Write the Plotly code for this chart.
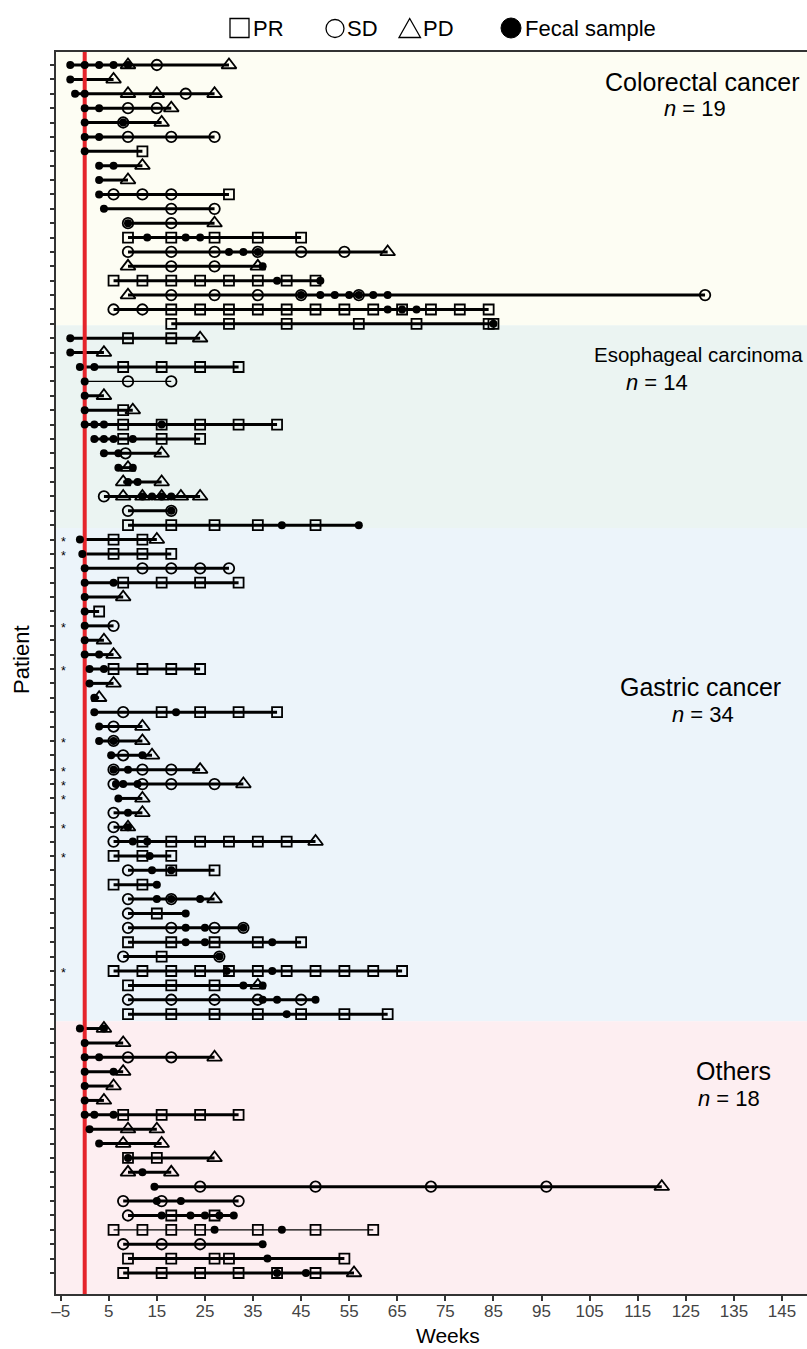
import plotly.graph_objects as go

# ---------------------------------------------------------------------------
# Swimmer data: one inner list per patient (top to bottom), values in weeks
# ---------------------------------------------------------------------------
# Colorectal cancer
crc_pr = [[], [], [], [], [], [], [12], [], [], [30], [], [], [9, 18, 27, 36, 45], [], [],
          [6, 12, 18, 24, 30, 36, 42, 48], [], [18, 24, 30, 36, 42, 48, 54, 60, 66, 72, 78, 84],
          [18, 30, 42, 57, 69, 84, 85]]
crc_sd = [[15], [], [21], [9, 15], [8], [9, 18, 27], [], [], [], [6, 12, 18], [18, 27], [9, 18], [],
          [9, 18, 27, 36, 45, 54], [18, 27], [], [18, 27, 36, 45, 57, 129], [6, 12], []]
crc_pd = [[9, 30], [6], [9, 15, 27], [18], [16], [], [], [12], [9], [], [], [27], [], [63], [9, 36],
          [], [9], [], []]
crc_fecal = [[-3, 0, 3, 6, 9], [-3], [-2, 0], [0, 3], [0, 8], [0, 3], [0], [3, 6], [3], [3], [4], [9],
             [13, 21, 24], [30, 33, 36], [37], [40, 49], [45, 49, 52, 55, 57, 60, 63], [63, 66, 69], [85]]

# Esophageal carcinoma
eso_pr = [[9, 18], [], [8, 16, 24, 32], [], [], [8], [8, 16, 24, 32, 40], [8, 16, 24], [], [], [], [],
          [], [9, 18, 27, 36, 48]]
eso_sd = [[], [], [], [9, 18], [], [], [], [], [8.5], [], [], [4], [9, 18], []]
eso_pd = [[24], [4], [], [], [4], [10], [], [], [16], [9], [8, 16], [8, 12, 16, 20, 24], [], []]
eso_fecal = [[-3], [-3], [-1, 2], [0], [0], [0], [0, 2, 4, 16], [2, 4, 6, 10], [4, 7], [7, 10], [9, 11],
             [12, 14, 16, 18], [18], [41, 57]]

# Gastric cancer
gas_pr = [[6, 12], [6, 12, 18], [], [8, 16, 24, 32], [], [3], [], [], [], [6, 12, 18, 24], [], [],
          [16, 24, 32, 40], [], [], [], [], [], [], [], [], [12, 18, 24, 30, 36, 42], [6, 12, 18],
          [18, 27], [6, 12], [], [15], [], [9, 18, 27, 36, 45], [16],
          [6, 12, 18, 24, 30, 36, 42, 48, 54, 60, 66], [9, 18, 27], [], [9, 18, 27, 36, 45, 54, 63]]
gas_sd = [[], [], [12, 18, 24, 30], [], [], [], [6], [], [], [], [], [], [8], [6], [6], [8],
          [6, 12, 18], [6, 12, 18, 27], [], [6], [6], [6], [], [9], [], [9, 18], [9], [9, 18, 27, 33],
          [], [8, 28], [], [], [9, 18, 27, 36, 45], []]
gas_pd = [[15], [], [], [], [8], [], [], [4], [6], [], [6], [3], [], [12], [12], [14], [24], [33],
          [12], [12], [9], [48], [], [], [], [27], [], [], [], [], [], [36], [], []]
gas_fecal = [[-1], [-0.5], [0], [0, 6], [0], [0], [0], [0], [0, 3], [1, 4], [1], [2], [2, 19], [3],
             [3, 6], [5.5, 12], [6, 9], [6.5, 8, 11], [7], [9], [9], [10, 13], [13.5], [14, 18], [15],
             [15, 18, 24], [21], [21, 25, 33], [21, 25, 39], [28], [29.5, 39], [33, 37], [37, 40, 48],
             [42]]

# Others
oth_pr = [[], [], [], [], [], [], [8, 16, 24, 32], [], [], [9, 15], [], [], [], [18, 27],
          [6, 12, 18, 24, 36, 48, 60], [], [9, 18, 27, 30, 54], [8, 16, 24, 32, 40, 48]]
oth_sd = [[], [], [9, 18], [], [], [], [], [], [], [], [], [24, 48, 72, 96], [8, 16, 32], [9], [],
          [8, 16, 24], [], []]
oth_pd = [[4], [8], [27], [8], [6], [4], [], [9, 15], [8, 16], [27], [9, 18], [120], [], [], [], [],
          [], [56]]
oth_fecal = [[-1, 4], [0], [0, 3], [0, 6], [0], [0], [0, 2, 6], [1], [3], [9], [12], [14.5], [15, 20],
             [16, 22, 25, 28, 31], [27, 41], [37], [38], [40, 46]]

group_names = ["Colorectal cancer", "Esophageal carcinoma", "Gastric cancer", "Others"]
starred_patients = [34, 35, 40, 43, 48, 50, 51, 52, 54, 56, 64]
thin_line_patients = [23, 82]
week_ticks = list(range(-5, 150, 10))
week_tick_labels = [("\u2013" + str(-w)) if w < 0 else str(w) for w in week_ticks]

# ---------------------------------------------------------------------------
group_sizes = [len(crc_pr), len(eso_pr), len(gas_pr), len(oth_pr)]
pr = crc_pr + eso_pr + gas_pr + oth_pr
sd = crc_sd + eso_sd + gas_sd + oth_sd
pd_ = crc_pd + eso_pd + gas_pd + oth_pd
fecal = crc_fecal + eso_fecal + gas_fecal + oth_fecal
n_pat = len(pr)
rows = list(range(1, n_pat + 1))

Y_TOP, Y_BOT = 0.096, 86.46
X_MIN, X_MAX = -5.97, 150.2
FONT = "Liberation Sans, Arial, Helvetica, sans-serif"

W, H = 807, 1349
ML, MR, MT, MB = 56, 0, 52, 55
PW, PH = W - ML - MR, H - MT - MB


def px(xp):
    return (xp - ML) / PW


def py(yp):
    return (H - MB - yp) / PH


fig = go.Figure()

# treatment lines, first to last event of each patient
for width, subset in [(3, [r for r in rows if r not in thin_line_patients]),
                      (1.4, thin_line_patients)]:
    lx, ly = [], []
    for r in subset:
        ev = pr[r - 1] + sd[r - 1] + pd_[r - 1] + fecal[r - 1]
        lx += [min(ev), max(ev), None]
        ly += [r, r, None]
    fig.add_trace(go.Scatter(x=lx, y=ly, mode="lines", line=dict(color="black", width=width),
                             hoverinfo="skip", showlegend=False))

# start of treatment
fig.add_trace(go.Scatter(x=[0, 0], y=[Y_TOP, Y_BOT], mode="lines",
                         line=dict(color="#E5242B", width=4), hoverinfo="skip", showlegend=False))


def flat(series):
    xs, ys = [], []
    for r, vals in zip(rows, series):
        for v in vals:
            xs.append(v)
            ys.append(r)
    return xs, ys


for name, series, symbol, size in [("PR", pr, "square-open", 10),
                                   ("SD", sd, "circle-open", 10.5),
                                   ("PD", pd_, "triangle-up-open", 13)]:
    xs, ys = flat(series)
    fig.add_trace(go.Scatter(x=xs, y=ys, mode="markers", name=name,
                             marker=dict(symbol=symbol, size=size, color="black",
                                         line=dict(width=1.8, color="black")),
                             showlegend=False))

xs, ys = flat(fecal)
fig.add_trace(go.Scatter(x=xs, y=ys, mode="markers", name="Fecal sample",
                         marker=dict(symbol="circle", size=8, color="black", line=dict(width=0)),
                         showlegend=False))

# background bands per tumour type
band_colors = ["#FDFDF3", "#EBF4F2", "#ECF4FA", "#FDEEF1"]
band_edges = [Y_TOP, 19.1, 33.2, 67.5, Y_BOT]
shapes = []
for i, c in enumerate(band_colors):
    shapes.append(dict(type="rect", xref="paper", yref="y", x0=0, x1=1,
                       y0=band_edges[i], y1=band_edges[i + 1],
                       fillcolor=c, line=dict(width=0), layer="below"))

# legend symbols above the panel
lw = 1.3
shapes.append(dict(type="rect", xref="paper", yref="paper", x0=px(230), x1=px(249),
                   y0=py(37.5), y1=py(18.5), line=dict(color="black", width=lw)))
shapes.append(dict(type="circle", xref="paper", yref="paper", x0=px(326), x1=px(344),
                   y0=py(37.5), y1=py(19.5), line=dict(color="black", width=lw)))
shapes.append(dict(type="path", xref="paper", yref="paper",
                   path="M {} {} L {} {} L {} {} Z".format(px(399), py(37.5), px(420.5), py(37.5),
                                                           px(409.7), py(18.5)),
                   line=dict(color="black", width=lw)))
shapes.append(dict(type="circle", xref="paper", yref="paper", x0=px(501), x1=px(521),
                   y0=py(38), y1=py(18), fillcolor="black", line=dict(color="black", width=1)))

annotations = []
for label, xl in [("PR", 251), ("SD", 344.5), ("PD", 421), ("Fecal sample", 523)]:
    annotations.append(dict(text=label, xref="paper", yref="paper", x=px(xl), y=py(28.5),
                            xanchor="left", yanchor="middle", showarrow=False,
                            font=dict(family=FONT, size=22, color="black")))

# group labels: (x, y, anchor, size) for the name, then (x, y) for the count
label_pos = [((128.5, 2.15, "center", 25), (127, 4.05)),
             ((149.8, 21.15, "right", 20.5), (119, 23.05)),
             ((128, 44.25, "center", 25), (128.5, 46.15)),
             ((135, 70.95, "center", 25), (134, 72.85))]
for name, n, ((xa, ya, anc, fs), (xb, yb)) in zip(group_names, group_sizes, label_pos):
    annotations.append(dict(text=name, x=xa, y=ya, xref="x", yref="y", showarrow=False,
                            xanchor=anc, yanchor="middle",
                            font=dict(family=FONT, size=fs, color="black")))
    annotations.append(dict(text="<i>n</i> = {}".format(n), x=xb, y=yb, xref="x", yref="y",
                            showarrow=False, xanchor="center", yanchor="middle",
                            font=dict(family=FONT, size=22, color="black")))

for r in starred_patients:
    annotations.append(dict(text="*", x=-4.4, y=r, xref="x", yref="y", showarrow=False,
                            xanchor="center", yanchor="middle", yshift=-2,
                            font=dict(family=FONT, size=12.5, color="black")))

annotations.append(dict(text="Weeks", xref="paper", yref="paper", x=px(448), y=py(1335),
                        xanchor="center", yanchor="middle", showarrow=False,
                        font=dict(family=FONT, size=21, color="black")))
annotations.append(dict(text="Patient", xref="paper", yref="paper", x=px(22), y=py(660),
                        xanchor="center", yanchor="middle", showarrow=False, textangle=-90,
                        font=dict(family=FONT, size=22, color="black")))

fig.update_layout(
    width=W, height=H,
    margin=dict(l=ML, r=MR, t=MT, b=MB),
    paper_bgcolor="white", plot_bgcolor="white",
    shapes=shapes, annotations=annotations,
    showlegend=False,
    xaxis=dict(range=[X_MIN, X_MAX], tickvals=week_ticks, ticktext=week_tick_labels,
               ticks="outside", ticklen=5, tickwidth=1.5, tickcolor="#333",
               ticklabelstandoff=-4,
               showline=True, linecolor="#333", linewidth=1.5, mirror=True,
               showgrid=False, zeroline=False,
               tickfont=dict(family=FONT, size=17, color="#444")),
    yaxis=dict(range=[Y_BOT, Y_TOP], tickvals=rows, showticklabels=False,
               ticks="outside", ticklen=4, tickwidth=1.5, tickcolor="#333",
               showline=True, linecolor="#333", linewidth=1.5,
               showgrid=False, zeroline=False),
)

fig.write_html("out.html")
